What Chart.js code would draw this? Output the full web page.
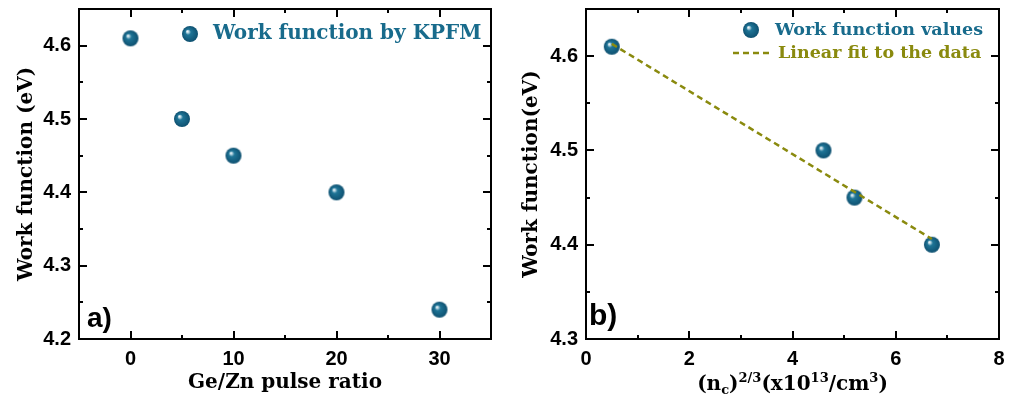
<!DOCTYPE html>
<html>
<head>
<meta charset="utf-8">
<script src="https://cdn.jsdelivr.net/npm/chart.js@4/dist/chart.umd.min.js"></script>
<style>
  body { margin: 0; background: #fff; width: 1013px; height: 398px; overflow: hidden; position: relative; }
  #wrapA { position: absolute; left: 0; top: 0; width: 505px; height: 398px; }
  #wrapB { position: absolute; left: 505px; top: 0; width: 508px; height: 398px; }
</style>
</head>
<body>
<div id="wrapA"><canvas id="chartA" width="505" height="398"></canvas></div>
<div id="wrapB"><canvas id="chartB" width="508" height="398"></canvas></div>
<script>
// panel a) work function vs Ge/Zn pulse ratio
const pulseRatio = [0, 5, 10, 20, 30];
const workFnKpfm = [4.61, 4.50, 4.45, 4.40, 4.24];
const xTicksA = [0, 10, 20, 30];
const xMinorA = [5, 15, 25];
const yTicksA = [4.2, 4.3, 4.4, 4.5, 4.6];
const yMinorA = [4.25, 4.35, 4.45, 4.55];

// panel b) work function vs (n_c)^(2/3)
const carrierTerm = [0.5, 4.6, 5.2, 6.7];
const workFnVals = [4.61, 4.50, 4.45, 4.40];
const fitX = [0.5, 6.7];
const fitY = [4.613, 4.406];
const xTicksB = [0, 2, 4, 6, 8];
const xMinorB = [1, 3, 5, 7];
const yTicksB = [4.3, 4.4, 4.5, 4.6];
const yMinorB = [4.35, 4.45, 4.55];

const TEAL = '#186b8c';
const OLIVE = '#8a8a0e';
const tickFont = { family: '"Liberation Sans", Arial, sans-serif', size: 20, weight: 'bold' };
const titleFont = { family: '"DejaVu Serif", serif', size: 20, weight: 'bold' };

// shiny ball marker
function ballSprite(r) {
  const c = document.createElement('canvas');
  c.width = c.height = r * 2 + 2;
  const g = c.getContext('2d');
  const cx = r + 1;
  const grad = g.createRadialGradient(cx - r * 0.35, cx - r * 0.35, 0, cx, cx, r);
  grad.addColorStop(0, '#ffffff');
  grad.addColorStop(0.15, '#b9d6e2');
  grad.addColorStop(0.35, '#1f7597');
  grad.addColorStop(1, '#0e5070');
  g.fillStyle = grad;
  g.beginPath();
  g.arc(cx, cx, r, 0, Math.PI * 2);
  g.fill();
  return c;
}
const ball = ballSprite(8);

// box frame with inward ticks on all four sides
const frameTicks = {
  id: 'frameTicks',
  afterDatasetsDraw(chart, args, o) {
    const { ctx, chartArea: a, scales: { x, y } } = chart;
    ctx.save();
    ctx.strokeStyle = '#000';
    ctx.lineWidth = 2;
    ctx.beginPath();
    const xt = (vals, len) => vals.forEach(v => {
      const px = Math.round(x.getPixelForValue(v));
      ctx.moveTo(px, a.bottom); ctx.lineTo(px, a.bottom - len);
      ctx.moveTo(px, a.top); ctx.lineTo(px, a.top + len);
    });
    const yt = (vals, len) => vals.forEach(v => {
      const py = Math.round(y.getPixelForValue(v));
      ctx.moveTo(a.left, py); ctx.lineTo(a.left + len, py);
      ctx.moveTo(a.right, py); ctx.lineTo(a.right - len, py);
    });
    xt(o.xMajor, 8); xt(o.xMinor, 4);
    yt(o.yMajor, 8); yt(o.yMinor, 4);
    ctx.stroke();
    ctx.strokeRect(a.left, a.top, a.right - a.left, a.bottom - a.top);
    ctx.restore();
  }
};

// legend inside the plot + panel letter
const inLegend = {
  id: 'inLegend',
  afterDraw(chart, args, o) {
    const ctx = chart.ctx;
    ctx.save();
    ctx.textBaseline = 'middle';
    ctx.font = 'bold ' + o.size + 'px "DejaVu Serif", serif';
    o.items.forEach(it => {
      if (it.kind === 'ball') {
        ctx.drawImage(ball, it.mx - ball.width / 2, it.my - ball.height / 2);
      } else {
        ctx.strokeStyle = it.color;
        ctx.lineWidth = 2.5;
        ctx.setLineDash([6, 4]);
        ctx.beginPath();
        ctx.moveTo(it.lx0, it.my); ctx.lineTo(it.lx1, it.my);
        ctx.stroke();
        ctx.setLineDash([]);
      }
      ctx.fillStyle = it.color;
      ctx.fillText(it.text, it.tx, it.my);
    });
    ctx.textBaseline = 'alphabetic';
    ctx.fillStyle = '#000';
    ctx.font = 'bold ' + o.panel.size + 'px "Liberation Sans", Arial, sans-serif';
    ctx.fillText(o.panel.text, o.panel.x, o.panel.y);
    ctx.restore();
  }
};

// x title with sub/superscripts for panel b
const richXTitle = {
  id: 'richXTitle',
  afterDraw(chart, args, o) {
    if (!o.parts) return;
    const { ctx, chartArea: a } = chart;
    const big = 'bold 20px "DejaVu Serif", serif';
    const small = 'bold 13px "DejaVu Serif", serif';
    ctx.save();
    ctx.fillStyle = '#000';
    ctx.textBaseline = 'alphabetic';
    let w = 0;
    o.parts.forEach(p => { ctx.font = p.s ? small : big; w += ctx.measureText(p.t).width; });
    let x = (a.left + a.right) / 2 - w / 2;
    o.parts.forEach(p => {
      ctx.font = p.s ? small : big;
      ctx.fillText(p.t, x, o.y + (p.dy || 0));
      x += ctx.measureText(p.t).width;
    });
    ctx.restore();
  }
};

function axisOpts(min, max, ticks, fmt, size, title) {
  return {
    type: 'linear',
    min: min,
    max: max,
    grid: { display: false, drawTicks: false, tickLength: 0 },
    border: { display: false },
    afterBuildTicks: s => { s.ticks = ticks.map(v => ({ value: v })); },
    afterFit: s => {
      if (s.isHorizontal()) s.height = size; else s.width = size;
      s.paddingTop = 0; s.paddingBottom = 0; s.paddingLeft = 0; s.paddingRight = 0;
    },
    ticks: { color: '#000', font: tickFont, padding: 8, autoSkip: false, maxRotation: 0, callback: fmt },
    title: title
  };
}

// chart a
new Chart(document.getElementById('chartA'), {
  type: 'scatter',
  data: {
    datasets: [{
      label: 'Work function by KPFM',
      data: pulseRatio.map((v, i) => ({ x: v, y: workFnKpfm[i] })),
      pointStyle: ball,
      pointRadius: 8
    }]
  },
  options: {
    responsive: false,
    animation: false,
    layout: { padding: { left: 0, right: 14, top: 5, bottom: 0 } },
    plugins: {
      legend: { display: false },
      tooltip: { enabled: false },
      frameTicks: { xMajor: xTicksA, xMinor: xMinorA, yMajor: yTicksA, yMinor: yMinorA },
      inLegend: {
        size: 20,
        items: [{ kind: 'ball', mx: 190, my: 34, tx: 213, text: 'Work function by KPFM', color: TEAL }],
        panel: { text: 'a)', x: 87, y: 327, size: 28 }
      }
    },
    scales: {
      x: axisOpts(-5, 35, xTicksA, v => v, 59,
        { display: true, text: 'Ge/Zn pulse ratio', color: '#000', font: titleFont, padding: { top: 0, bottom: 3 } }),
      y: axisOpts(4.2, 4.65, yTicksA, v => v.toFixed(1), 79,
        { display: true, text: 'Work function (eV)', color: '#000', font: titleFont, padding: { top: 15, bottom: 0 } })
    }
  },
  plugins: [frameTicks, inLegend]
});

// chart b
new Chart(document.getElementById('chartB'), {
  type: 'scatter',
  data: {
    datasets: [{
      label: 'Linear fit to the data',
      data: fitX.map((v, i) => ({ x: v, y: fitY[i] })),
      showLine: true,
      borderColor: OLIVE,
      borderWidth: 2.5,
      borderDash: [6, 4],
      pointRadius: 0,
      order: 0
    }, {
      label: 'Work function values',
      data: carrierTerm.map((v, i) => ({ x: v, y: workFnVals[i] })),
      pointStyle: ball,
      pointRadius: 8,
      order: 1
    }]
  },
  options: {
    responsive: false,
    animation: false,
    layout: { padding: { left: 0, right: 14, top: 5, bottom: 0 } },
    plugins: {
      legend: { display: false },
      tooltip: { enabled: false },
      frameTicks: { xMajor: xTicksB, xMinor: xMinorB, yMajor: yTicksB, yMinor: yMinorB },
      inLegend: {
        size: 17.5,
        items: [
          { kind: 'ball', mx: 246, my: 30, tx: 270, text: 'Work function values', color: TEAL },
          { kind: 'line', lx0: 228, lx1: 265, my: 53, tx: 273, text: 'Linear fit to the data', color: OLIVE }
        ],
        panel: { text: 'b)', x: 84, y: 325, size: 30 }
      },
      richXTitle: {
        y: 390,
        parts: [
          { t: '(n' }, { t: 'c', s: true, dy: 4 }, { t: ')' }, { t: '2/3', s: true, dy: -8 },
          { t: '(x10' }, { t: '13', s: true, dy: -8 }, { t: '/cm' }, { t: '3', s: true, dy: -8 }, { t: ')' }
        ]
      }
    },
    scales: {
      x: axisOpts(0, 8, xTicksB, v => v, 59, { display: false }),
      y: axisOpts(4.3, 4.65, yTicksB, v => v.toFixed(1), 81,
        { display: true, text: 'Work function(eV)', color: '#000', font: titleFont, padding: { top: 15, bottom: 0 } })
    }
  },
  plugins: [frameTicks, inLegend, richXTitle]
});
</script>
</body>
</html>
